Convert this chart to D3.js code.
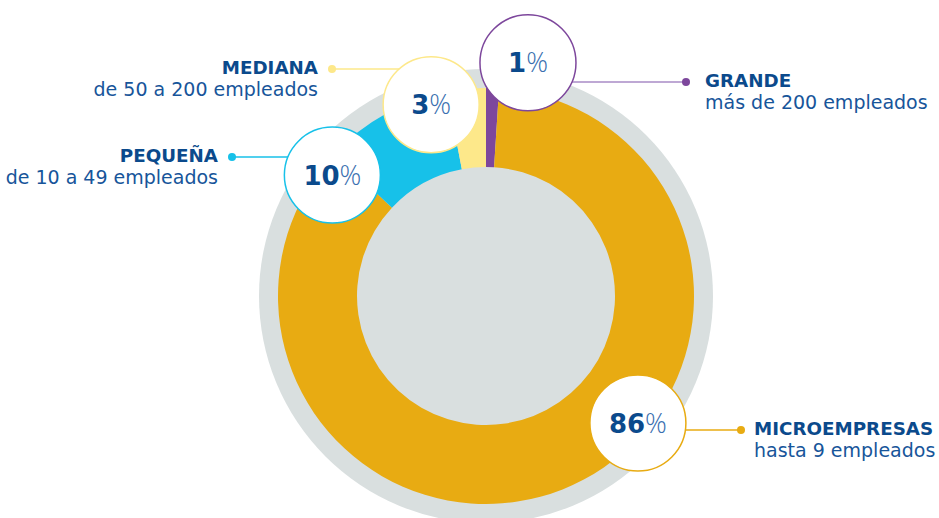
<!DOCTYPE html>
<html>
<head>
<meta charset="utf-8">
<script src="https://cdn.jsdelivr.net/npm/d3@7"></script>
<style>
  body { margin: 0; background: #fff; }
  svg { display: block; }
</style>
</head>
<body>
<div id="chart"></div>
<script>
// data, clockwise from 12 o'clock
const categories = ["GRANDE", "MICROEMPRESAS", "PEQUEÑA", "MEDIANA"];
const subtitles = ["más de 200 empleados", "hasta 9 empleados", "de 10 a 49 empleados", "de 50 a 200 empleados"];
const values = [1, 86, 10, 3];

const colors = ["#7d479c", "#e8ab12", "#17c1e9", "#fde88a"];
const lineColors = ["#a98bc6", "#e8ab12", "#17c1e9", "#fde88a"];

// hand placed bubbles (angle in degrees from top, distance from centre), same order as data
const bubbleAngle = [10.2, 129.9, -51.8, -16];
const bubbleDist = [237, 198, 195.5, 199];
// callout dots + text
const dotX = [686, 741, 232, 332];
const dotY = [82, 430, 157, 69];
const textX = [705, 754, 218, 318];
const textAnchor = ["start", "start", "end", "end"];

const width = 939, height = 518;
const cx = 486, cy = 296;
const navy = "#0b4a8c";

const svg = d3.select("#chart")
  .append("svg")
  .attr("width", width)
  .attr("height", height);

const g = svg.append("g").attr("transform", `translate(${cx},${cy})`);

// gray halo behind the donut (also shows through the hole)
g.append("circle").attr("r", 227).attr("fill", "#d9dfdf");

const pie = d3.pie().sort(null).value(d => d.value);
const arc = d3.arc().innerRadius(129).outerRadius(208);

const rows = categories.map((c, i) => ({ name: c, sub: subtitles[i], value: values[i], i }));

g.selectAll("path.slice")
  .data(pie(rows))
  .join("path")
  .attr("class", "slice")
  .attr("d", arc)
  .attr("fill", d => colors[d.data.i]);

// bubble centres
rows.forEach(r => {
  const a = bubbleAngle[r.i] * Math.PI / 180;
  r.bx = cx + bubbleDist[r.i] * Math.sin(a);
  r.by = cy - bubbleDist[r.i] * Math.cos(a);
});

// leader lines (drawn under the bubbles)
svg.append("g")
  .selectAll("line")
  .data(rows)
  .join("line")
  .attr("x1", d => dotX[d.i])
  .attr("y1", d => dotY[d.i])
  .attr("x2", d => d.bx)
  .attr("y2", d => dotY[d.i])
  .attr("stroke", d => lineColors[d.i])
  .attr("stroke-width", 1.5);

svg.append("g")
  .selectAll("circle")
  .data(rows)
  .join("circle")
  .attr("cx", d => dotX[d.i])
  .attr("cy", d => dotY[d.i])
  .attr("r", 4)
  .attr("fill", d => colors[d.i]);

// bubbles
const bubble = svg.append("g")
  .selectAll("g")
  .data(rows)
  .join("g")
  .attr("transform", d => `translate(${d.bx},${d.by})`);

bubble.append("circle")
  .attr("r", 48)
  .attr("fill", "#fff")
  .attr("stroke", d => colors[d.i])
  .attr("stroke-width", 1.5);

const pct = bubble.append("text")
  .attr("text-anchor", "middle")
  .attr("y", 9.5);
pct.append("tspan")
  .attr("font-family", "'DejaVu Sans', sans-serif")
  .attr("font-weight", 700)
  .attr("font-size", 26)
  .attr("fill", navy)
  .text(d => d.value);
pct.append("tspan")
  .attr("font-family", "'Open Sans', sans-serif")
  .attr("font-weight", 300)
  .attr("font-size", 27)
  .attr("fill", "#3a6fb0")
  .text("%");

// callout text
const label = svg.append("g")
  .selectAll("text")
  .data(rows)
  .join("text")
  .attr("text-anchor", d => textAnchor[d.i])
  .attr("font-family", "'DejaVu Sans', sans-serif")
  .attr("fill", navy);

label.append("tspan")
  .attr("x", d => textX[d.i])
  .attr("y", d => dotY[d.i] + 4.5)
  .attr("font-weight", 700)
  .attr("font-size", 18.3)
  .text(d => d.name);

label.append("tspan")
  .attr("x", d => textX[d.i])
  .attr("y", d => dotY[d.i] + 27)
  .attr("font-size", 19)
  .attr("fill", "#17559a")
  .text(d => d.sub);
</script>
</body>
</html>
